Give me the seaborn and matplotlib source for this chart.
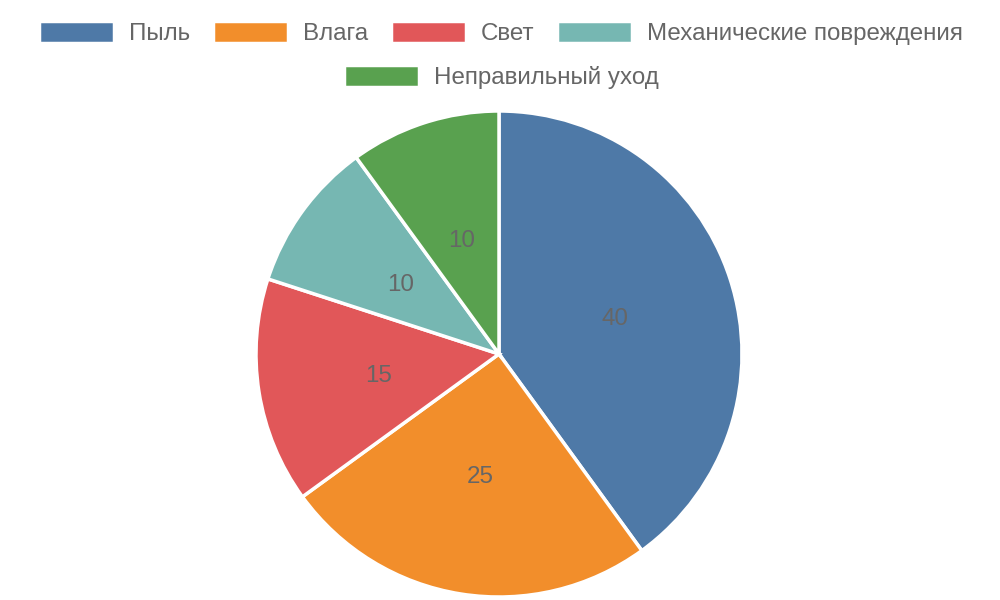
import seaborn as sns
import matplotlib.pyplot as plt

# Data
causes = ["Пыль", "Влага", "Свет", "Механические повреждения", "Неправильный уход"]
shares = [40, 25, 15, 10, 10]
colors = ["#4e79a7", "#f28e2b", "#e15759", "#76b7b2", "#59a14f"]

sns.set_theme(style="white")
plt.rcParams["font.family"] = ["Liberation Sans", "DejaVu Sans"]
TEXT = "#666666"
FS = 17.4

fig = plt.figure(figsize=(10, 6), dpi=100)
# pie area: centre ~ (499, 354) px, radius ~243 px
ax = fig.add_axes([0.256, 0.005, 0.486, 0.81])

total = sum(shares)
wedges, _, autotexts = ax.pie(
    shares,
    colors=sns.color_palette(colors),
    startangle=90,
    counterclock=False,
    radius=1,
    autopct=lambda p: f"{p * total / 100:.0f}",
    pctdistance=0.5,
    wedgeprops=dict(edgecolor="white", linewidth=2.5),
    textprops=dict(fontsize=FS, color=TEXT),
)
for t in autotexts:
    t.set_va("center_baseline")
ax.set_xlim(-1, 1)
ax.set_ylim(-1, 1)
ax.set_aspect("equal")
ax.axis("off")

leg_kw = dict(
    loc="center",
    frameon=False,
    fontsize=FS,
    labelcolor=TEXT,
    handlelength=3.1,
    handleheight=1.0,
    handletextpad=0.62,
    columnspacing=0.95,
    borderpad=0,
    borderaxespad=0,
)
fig.legend(wedges[:4], causes[:4], ncol=4, bbox_to_anchor=(0.501, 1 - 33 / 600), **leg_kw)
fig.legend(wedges[4:], causes[4:], ncol=1, bbox_to_anchor=(0.501, 1 - 77 / 600), **leg_kw)

plt.savefig("out.png", dpi=100)
